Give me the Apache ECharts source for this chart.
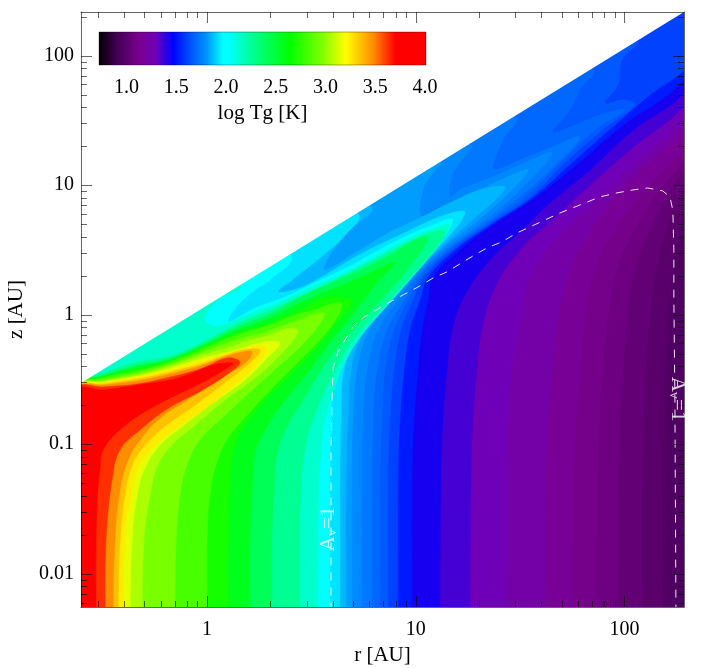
<!DOCTYPE html>
<html>
<head>
<meta charset="utf-8">
<title>log Tg</title>
<script src="https://cdn.jsdelivr.net/npm/echarts@6/dist/echarts.min.js"></script>
<style>
  html, body { margin: 0; padding: 0; background: #fff; }
  #main { width: 709px; height: 668px; }
</style>
</head>
<body>
<div id="main"></div>
<script>
// axis ranges
const rMin = 0.2489, rMax = 193, zMin = 0.00554, zMax = 217;
const tgMin = 0.724, tgMax = 4.01;

// tick values
const majorR = [1, 10, 100];
const minorR = [0.3, 0.4, 0.5, 0.6, 0.7, 0.8, 0.9, 2, 3, 4, 5, 6, 7, 8, 9, 20, 30, 40, 50, 60, 70, 80, 90];
const majorZ = [0.01, 0.1, 1, 10, 100];
const minorZ = [0.006, 0.007, 0.008, 0.009, 0.02, 0.03, 0.04, 0.05, 0.06, 0.07, 0.08, 0.09,
  0.2, 0.3, 0.4, 0.5, 0.6, 0.7, 0.8, 0.9, 2, 3, 4, 5, 6, 7, 8, 9, 20, 30, 40, 50, 60, 70, 80, 90, 200];
const barTicks = [1, 1.5, 2, 2.5, 3, 3.5, 4];

// colour table of the bar: log Tg -> colour
const stopValues = [0.72, 0.9, 1.13, 1.3, 1.47, 1.64, 1.8, 1.97, 2.03, 2.2, 2.64, 2.97, 3.2, 3.47, 3.7, 4.01];
const stopColors = ['#000000', '#400050', '#7a008f', '#7000b8', '#0000ff', '#0050ff', '#0090ff', '#00ffff', '#00ffff',
  '#00ffb0', '#00ff00', '#80ff00', '#ffff00', '#ff9000', '#ff0000', '#ff0000'];

// points outside the plot that close the isotherm polygons, [log10 r, log10 z]
const WL = [-1, 3];
const SR = [2.7, 3];
const BL = [-1, -3];

// disc surface: everything above this line is empty
const surfaceLeft = [-0.618, -0.541];
const surfaceRight = [2.314, 2.365];

// isotherms of log Tg, [log10 r, log10 z]
const levels = [0.95, 0.98, 1.02, 1.06, 1.09, 1.13, 1.2, 1.27, 1.33, 1.4, 1.47, 1.58, 1.64, 1.68, 1.72, 1.76, 1.8, 1.84, 1.88, 1.97,
  2.08, 2.2, 2.35, 2.5, 2.64, 2.75, 2.9, 3.0, 3.1, 3.2, 3.3, 3.4, 3.55, 3.7];
const isotherms = [
  [[2.7, -2.3], SR, WL],
  [[2.184,-2.3],[2.184,-1.276],[2.189,-.813],[2.194,-.427],[2.208,-.041],[2.232,.345],[2.266,.654],[2.314,.963],SR,WL],
  [[2.084,-2.3],[2.084,-1.276],[2.093,-.813],[2.103,-.427],[2.122,-.041],[2.151,.345],[2.208,.692],[2.266,.924],[2.314,1.078],SR,WL],
  [[1.969,-2.3],[1.969,-1.276],[1.978,-.813],[1.993,-.427],[2.012,-.041],[2.050,.345],[2.122,.654],[2.218,.963],[2.314,1.194],SR,WL],
  [[1.868,-2.3],[1.873,-1.276],[1.882,-.813],[1.897,-.427],[1.921,-.041],[1.964,.345],[2.050,.654],[2.170,.963],[2.314,1.271],SR,WL],
  [[1.753,-2.3],[1.758,-1.276],[1.768,-.813],[1.787,-.427],[1.811,-.041],[1.859,.345],[1.954,.654],[2.098,.963],[2.314,1.364],SR,WL],
  [[1.619,-2.3],[1.624,-1.276],[1.633,-.813],[1.653,-.427],[1.681,-.041],[1.729,.306],[1.835,.654],[2.002,1.001],[2.314,1.519],SR,WL],
  [[1.427,-2.3],[1.432,-1.276],[1.442,-.813],[1.461,-.427],[1.490,-.118],[1.547,.306],[1.667,.577],[1.835,.847],[2.026,1.132],[2.314,1.603],SR,WL],
  [[1.260,-2.3],[1.265,-1.276],[1.274,-.813],[1.293,-.427],[1.317,-.118],[1.380,.214],[1.499,.499],[1.643,.716],[1.835,1.001],[2.026,1.271],[2.314,1.681],SR,WL],
  [[1.116,-2.3],[1.121,-1.276],[1.130,-.813],[1.150,-.427],[1.174,-.118],[1.236,.152],[1.356,.422],[1.499,.638],[1.643,.862],[1.835,1.117],[2.026,1.402],[2.314,1.773],SR,WL],
  [[.982,-2.3],[.982,-1.276],[.992,-.813],[1.011,-.427],[1.030,-.118],[1.059,.113],[1.083,.283],[1.212,.499],[1.370,.692],[1.571,.901],[1.787,1.179],[1.978,1.441],[2.314,1.866],SR,WL],
  [[.915,-2.3],[.915,-1.276],[.924,-.813],[.944,-.427],[.972,-.118],[1.020,.113],[1.059,.291],[1.188,.499],[1.356,.692],[1.562,.909],[1.763,1.194],[1.954,1.464],[2.122,1.696],[2.314,1.943],SR,WL],
  [[.867,-2.3],[.867,-1.276],[.877,-.813],[.896,-.427],[.929,-.118],[.987,.113],[1.039,.291],[1.174,.499],[1.346,.692],[1.547,.909],[1.729,1.194],[1.906,1.441],[2.050,1.619],[2.002,1.658],[1.906,1.634],[1.969,1.773],[1.988,1.966],[2.055,2.113],WL],
  [[.829,-2.3],[.829,-1.276],[.838,-.813],[.853,-.427],[.896,-.118],[.963,.113],[1.025,.291],[1.159,.499],[1.332,.692],[1.533,.924],[1.691,1.171],[1.859,1.426],[2.002,1.580],[1.882,1.542],[1.763,1.464],[1.657,1.410],[1.739,1.580],[1.787,1.735],[1.844,1.897],WL],
  [[.790,-2.3],[.790,-1.276],[.795,-.813],[.814,-.427],[.862,-.118],[.944,.113],[1.011,.291],[1.150,.499],[1.317,.692],[1.509,.924],[1.667,1.155],[1.787,1.372],[1.643,1.287],[1.499,1.194],[1.380,1.117],[1.370,1.155],[1.418,1.349],[1.475,1.534],WL],
  [[.742,-2.3],[.742,-1.276],[.747,-.813],[.766,-.427],[.819,-.118],[.915,.113],[.996,.291],[1.135,.499],[1.298,.692],[1.475,.924],[1.653,1.248],[1.499,1.155],[1.356,1.055],[1.212,.963],[1.164,.909],[1.174,1.078],[1.221,1.194],[1.260,1.318],WL],
  [[.695,-2.3],[.695,-1.276],[.699,-.813],[.719,-.427],[.776,-.118],[.886,.113],[.977,.291],[1.116,.499],[1.269,.692],[1.427,.909],[1.538,1.117],[1.427,1.055],[1.284,.947],[1.140,.847],[1.030,.754],[1.035,.963],[1.092,1.117],[1.116,1.179],WL],
  [[.666,-2.3],[.666,-1.276],[.675,-.813],[.690,-.427],[.752,-.118],[.867,.113],[.968,.291],[1.106,.499],[1.260,.716],[1.427,.978],[1.308,.963],[1.164,.862],[1.020,.747],[.877,.638],[.733,.499],[.565,.345],[.589,.461],[.685,.654],[.781,.847],WL],
  [[.637,-2.3],[.637,-1.739],[.637,-1.276],[.642,-.813],[.656,-.427],[.728,-.118],[.848,.113],[.958,.291],[1.097,.499],[1.236,.785],[1.140,.770],[.924,.615],[.728,.461],[.565,.306],[.445,.207],[.340,.175],[.407,.268],[.541,.438],[.661,.615],[.719,.785],WL],
  [[.589,-2.3],[.589,-1.739],[.589,-1.276],[.594,-.813],[.608,-.427],[.627,-.288],[.699,-.095],[.781,.036],[.939,.291],[1.083,.499],[1.178,.731],[1.083,.692],[.877,.546],[.685,.376],[.493,.229],[.374,.137],[.230,.052],[.101,-.056],[.149,.075],[.230,.191],[.302,.268],[.398,.469],WL],
  [[.532,-2.3],[.532,-1.739],[.536,-1.353],[.546,-1.044],[.565,-.813],[.604,-.597],[.661,-.365],[.742,-.157],[.853,.052],[.972,.268],[1.092,.499],[1.164,.692],[1.106,.677],[.972,.592],[.805,.446],[.637,.306],[.493,.207],[.350,.098],[.182,-.010],[.038,-.088],[-.010,-.025],[.062,.129],[.158,.229],WL],
  [[.445,-2.3],[.445,-1.739],[.450,-1.353],[.469,-1.044],[.508,-.813],[.556,-.620],[.627,-.388],[.699,-.195],[.805,-.002],[.948,.245],[1.068,.461],[1.140,.638],[1.078,.638],[.948,.546],[.781,.407],[.613,.268],[.469,.160],[.326,.052],[.144,-.072],[-.019,-.211],[-.177,-.319],[-.335,-.365],[-.498,-.450],[-.618,-.543]],
  [[.311,-2.3],[.311,-1.739],[.321,-1.353],[.340,-1.044],[.388,-.852],[.460,-.659],[.541,-.442],[.637,-.234],[.733,-.056],[.877,.191],[.996,.422],[1.059,.592],[.996,.577],[.877,.461],[.685,.306],[.541,.207],[.422,.113],[.302,.005],[.144,-.095],[-.019,-.226],[-.177,-.334],[-.335,-.388],[-.498,-.466],[-.618,-.547]],
  [[.206,-2.3],[.206,-1.739],[.216,-1.353],[.235,-1.044],[.292,-.852],[.374,-.659],[.484,-.442],[.580,-.234],[.685,-.025],[.805,.229],[.901,.407],[.829,.361],[.685,.252],[.565,.175],[.445,.090],[.302,-.025],[.144,-.118],[-.019,-.242],[-.177,-.350],[-.335,-.404],[-.498,-.474],[-.618,-.551]],
  [[.101,-2.3],[.101,-1.739],[.110,-1.353],[.125,-1.044],[.182,-.852],[.278,-.659],[.398,-.466],[.517,-.273],[.613,-.080],[.695,.098],[.661,.129],[.565,.129],[.445,.036],[.302,-.064],[.144,-.141],[-.019,-.249],[-.177,-.357],[-.335,-.419],[-.498,-.481],[-.618,-.551]],
  [[0,-2.3],[0,-1.739],[.014,-1.392],[.043,-1.160],[.101,-.952],[.206,-.751],[.326,-.543],[.469,-.311],[.589,-.103],[.647,.075],[.613,.090],[.517,.036],[.422,-.002],[.302,-.080],[.144,-.157],[-.019,-.265],[-.177,-.365],[-.335,-.435],[-.498,-.489],[-.618,-.554]],
  [[-.153,-2.3],[-.148,-1.739],[-.129,-1.392],[-.096,-1.160],[-.034,-.967],[.072,-.798],[.206,-.597],[.350,-.388],[.469,-.211],[.565,-.002],[.532,.013],[.445,-.041],[.374,-.080],[.278,-.134],[.144,-.195],[-.019,-.288],[-.177,-.381],[-.335,-.450],[-.498,-.504],[-.618,-.554]],
  [[-.311,-2.3],[-.302,-1.739],[-.273,-1.392],[-.235,-1.160],[-.168,-1.006],[-.057,-.852],[.086,-.659],[.230,-.489],[.350,-.311],[.436,-.134],[.398,-.103],[.302,-.157],[.206,-.195],[.110,-.249],[-.019,-.311],[-.177,-.396],[-.335,-.466],[-.498,-.512],[-.618,-.558]],
  [[-.369,-2.3],[-.359,-1.739],[-.335,-1.392],[-.297,-1.183],[-.225,-1.006],[-.129,-.875],[.014,-.697],[.182,-.504],[.302,-.311],[.350,-.226],[.311,-.203],[.230,-.226],[.134,-.273],[-.019,-.334],[-.177,-.411],[-.335,-.474],[-.498,-.520],[-.618,-.558]],
  [[-.402,-2.3],[-.393,-1.739],[-.369,-1.430],[-.335,-1.199],[-.273,-1.044],[-.177,-.913],[-.019,-.736],[.144,-.528],[.263,-.334],[.287,-.257],[.254,-.242],[.172,-.273],[-.019,-.357],[-.177,-.427],[-.335,-.481],[-.498,-.527],[-.618,-.562]],
  [[-.426,-2.3],[-.417,-1.739],[-.393,-1.392],[-.359,-1.160],[-.297,-1.006],[-.206,-.867],[-.057,-.697],[.101,-.504],[.220,-.350],[.254,-.273],[.206,-.265],[.134,-.288],[-.019,-.373],[-.177,-.442],[-.335,-.497],[-.498,-.535],[-.618,-.566]],
  [[-.450,-2.3],[-.441,-1.739],[-.417,-1.353],[-.378,-1.122],[-.321,-.967],[-.235,-.813],[-.096,-.659],[.062,-.489],[.182,-.373],[.216,-.288],[.172,-.288],[.096,-.319],[-.019,-.388],[-.177,-.458],[-.335,-.512],[-.498,-.543],[-.618,-.570]],
  [[-.489,-2.3],[-.484,-1.739],[-.455,-1.276],[-.417,-1.044],[-.321,-.890],[-.177,-.713],[-.019,-.581],[.125,-.427],[.158,-.365],[.096,-.334],[-.019,-.411],[-.177,-.481],[-.335,-.535],[-.498,-.558],[-.618,-.574]],
  [[-.532,-2.3],[-.532,-1.739],[-.523,-1.353],[-.513,-1.199],[-.498,-1.044],[-.402,-.867],[-.259,-.713],[-.096,-.581],[-.019,-.520],[.096,-.411],[.125,-.373],[.029,-.388],[-.096,-.466],[-.177,-.504],[-.335,-.543],[-.498,-.581],[-.618,-.589]]
];

// dashed Av=1 line, [log10 r, log10 z]
const avLine = [[2.247,-2.3],[2.242,-.659],[2.237,.113],[2.237,.499],[2.232,.808],[2.218,.909],[2.184,.955],[2.112,.978],[2.041,.963],[1.964,.940],[1.882,.909],[1.787,.847],[1.691,.785],[1.547,.677],[1.485,.631],[1.413,.562],[1.341,.515],[1.274,.453],[1.212,.392],[1.150,.330],[1.083,.283],[1.011,.214],[.948,.160],[.877,.098],[.819,.044],[.752,-.018],[.699,-.095],[.661,-.195],[.627,-.288],[.604,-.411],[.599,-.659],[.594,-1.044],[.594,-2.3]];
const avLabelLeft = [0.580, -1.654];
const avLabelRight = [2.256, -0.651];

function pow10(p) {
  return [Math.pow(10, p[0]), Math.pow(10, p[1])];
}

function colorAt(v) {
  for (var i = 0; i < stopValues.length - 1; i++) {
    if (v <= stopValues[i + 1]) {
      var f = (v - stopValues[i]) / (stopValues[i + 1] - stopValues[i]);
      return echarts.color.lerp(f, [stopColors[i], stopColors[i + 1]]);
    }
  }
  return stopColors[stopColors.length - 1];
}

// filled contours, painted from cold to hot, each band takes the colour of its middle
function renderContour(params, api) {
  var i = params.dataIndex;
  var line = isotherms[i];
  var pts = [[line[0][0], -3]].concat(line, [BL]).map(function (p) {
    return api.coord(pow10(p));
  });
  var next = i + 1 < levels.length ? levels[i + 1] : tgMax;
  var c = colorAt((levels[i] + next) / 2);
  return {
    type: 'polygon',
    shape: { points: pts, smooth: 0.4 },
    style: { fill: c, stroke: c, lineWidth: 0.5 }
  };
}

function renderMask(params, api) {
  var pts = [surfaceLeft, surfaceRight, SR, WL].map(function (p) {
    return api.coord(pow10(p));
  });
  return { type: 'polygon', shape: { points: pts }, style: { fill: '#fff' } };
}

const tickColor = 'rgba(0,0,0,0.6)';

function tickLine(x1, y1, x2, y2) {
  return {
    type: 'line',
    shape: { x1: x1, y1: y1, x2: x2, y2: y2 },
    style: { stroke: tickColor, lineWidth: 1 }
  };
}

function xTicks(len) {
  return function (params, api) {
    var v = api.value(0);
    var a = api.coord([v, zMin]);
    var b = api.coord([v, zMax]);
    return { type: 'group', children: [
      tickLine(Math.round(a[0]) + 0.5, a[1], Math.round(a[0]) + 0.5, a[1] - len),
      tickLine(Math.round(b[0]) + 0.5, b[1], Math.round(b[0]) + 0.5, b[1] + len)
    ] };
  };
}

function yTicks(len) {
  return function (params, api) {
    var v = api.value(1);
    var a = api.coord([rMin, v]);
    var b = api.coord([rMax, v]);
    return { type: 'group', children: [
      tickLine(a[0], Math.round(a[1]) + 0.5, a[0] + len, Math.round(a[1]) + 0.5),
      tickLine(b[0], Math.round(b[1]) + 0.5, b[0] - len, Math.round(b[1]) + 0.5)
    ] };
  };
}

function tickSeries(vals, isX, len) {
  return {
    type: 'custom',
    silent: true,
    z: 6,
    renderItem: isX ? xTicks(len) : yTicks(len),
    data: vals.map(function (v) { return isX ? [v, 1] : [1, v]; })
  };
}

function avLabel(p, rot) {
  return {
    type: 'scatter',
    symbolSize: 0,
    silent: true,
    z: 7,
    data: [pow10(p)],
    label: {
      show: true,
      position: 'inside',
      rotate: rot,
      formatter: 'A{s|V}=1',
      color: '#fff',
      fontFamily: 'Liberation Serif',
      fontSize: 21,
      rich: { s: { fontSize: 10, color: '#fff', fontFamily: 'Liberation Serif', verticalAlign: 'bottom', padding: [8, 0, 0, 0] } }
    }
  };
}

var serif = 'Liberation Serif';
var frame = { show: true, onZero: false, lineStyle: { color: tickColor, width: 1 } };

var gradStops = stopValues.map(function (v, i) {
  return { offset: Math.min(1, Math.max(0, (v - tgMin) / (tgMax - tgMin))), color: stopColors[i] };
});

var option = {
  animation: false,
  backgroundColor: '#fff',
  grid: [
    { left: 81, top: 12, width: 603, height: 595, outerBoundsMode: 'none' },
    { left: 99, top: 32, width: 327, height: 33, outerBoundsMode: 'none' }
  ],
  xAxis: [
    {
      type: 'log', gridIndex: 0, min: rMin, max: rMax, z: 5,
      name: 'r [AU]', nameLocation: 'middle', nameGap: 33,
      nameTextStyle: { fontFamily: serif, fontSize: 21, color: '#000' },
      axisLine: frame, axisTick: { show: false }, splitLine: { show: false },
      axisLabel: {
        fontFamily: serif, fontSize: 20, color: '#000', margin: 13,
        showMinLabel: false, showMaxLabel: false,
        formatter: function (v) { return String(+(+v).toPrecision(3)); }
      }
    },
    {
      type: 'log', gridIndex: 0, position: 'top', min: rMin, max: rMax, z: 5,
      axisLine: frame, axisTick: { show: false }, axisLabel: { show: false }, splitLine: { show: false }
    },
    {
      type: 'value', gridIndex: 1, min: tgMin, max: tgMax, z: 9,
      name: 'log Tg [K]', nameLocation: 'middle', nameGap: 38,
      nameTextStyle: { fontFamily: serif, fontSize: 21, color: '#000' },
      axisLine: { show: false }, axisTick: { show: false }, splitLine: { show: false },
      axisLabel: {
        fontFamily: serif, fontSize: 20, color: '#000', margin: 13,
        customValues: barTicks,
        formatter: function (v) { return (+v).toFixed(1); }
      }
    }
  ],
  yAxis: [
    {
      type: 'log', gridIndex: 0, min: zMin, max: zMax, z: 5,
      name: 'z [AU]', nameLocation: 'middle', nameGap: 54,
      nameTextStyle: { fontFamily: serif, fontSize: 21, color: '#000' },
      axisLine: frame, axisTick: { show: false }, splitLine: { show: false },
      axisLabel: {
        fontFamily: serif, fontSize: 20, color: '#000', margin: 7,
        showMinLabel: false, showMaxLabel: false,
        formatter: function (v) { return String(+(+v).toPrecision(3)); }
      }
    },
    {
      type: 'log', gridIndex: 0, position: 'right', min: zMin, max: zMax, z: 5,
      axisLine: frame, axisTick: { show: false }, axisLabel: { show: false }, splitLine: { show: false }
    },
    { type: 'value', gridIndex: 1, min: 0, max: 1, show: false }
  ],
  series: [
    {
      type: 'custom',
      silent: true,
      clip: true,
      z: 2,
      renderItem: renderContour,
      data: levels.map(function (l) { return [1, 1]; })
    },
    {
      type: 'custom',
      silent: true,
      clip: true,
      z: 2,
      renderItem: renderMask,
      data: [[1, 1]]
    },
    {
      type: 'line',
      silent: true,
      z: 3,
      symbol: 'none',
      clip: true,
      lineStyle: { color: '#fff', width: 1, type: [8, 7], opacity: 0.9 },
      data: avLine.map(pow10)
    },
    avLabel(avLabelLeft, 90),
    avLabel(avLabelRight, -90),
    tickSeries(majorR, true, 11),
    tickSeries(minorR, true, 6),
    tickSeries(majorZ, false, 11),
    tickSeries(minorZ, false, 6),
    {
      // colour bar
      type: 'custom',
      silent: true,
      xAxisIndex: 2,
      yAxisIndex: 2,
      z: 8,
      renderItem: function (params, api) {
        var a = api.coord([tgMin, 0]);
        var b = api.coord([tgMax, 1]);
        return {
          type: 'rect',
          shape: { x: a[0], y: b[1], width: b[0] - a[0], height: a[1] - b[1] },
          style: { fill: new echarts.graphic.LinearGradient(0, 0, 1, 0, gradStops), stroke: 'rgba(0,0,0,0.35)', lineWidth: 1 }
        };
      },
      data: [[tgMin, 0]]
    }
  ]
};

var myChart = echarts.init(document.getElementById('main'));
myChart.setOption(option);
</script>
</body>
</html>
